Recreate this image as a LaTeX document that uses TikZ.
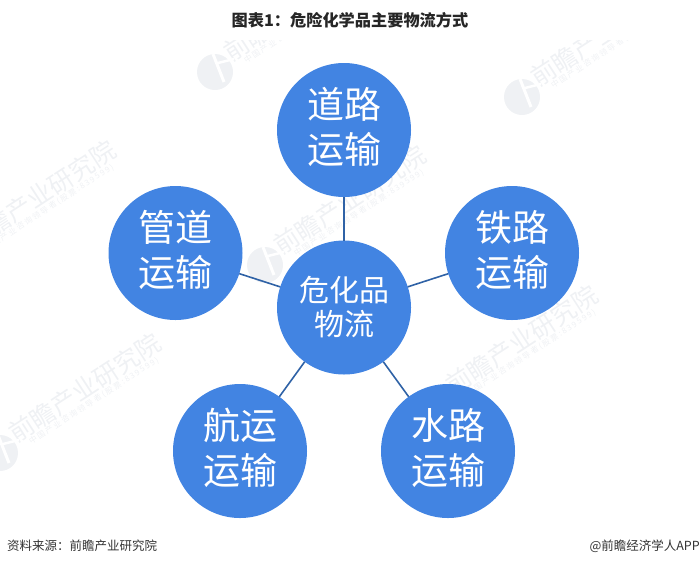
\documentclass[tikz,border=0pt]{standalone}
\usepackage{fontspec}
\setmainfont{Noto Sans CJK SC}
\newfontfamily\wmfont[LetterSpace=20]{Noto Sans CJK SC}
\definecolor{hubblue}{HTML}{4284E2}
\definecolor{linkblue}{HTML}{2F62A6}
\definecolor{wmgray}{HTML}{EFF1F4}
\tikzset{
    mode/.style={shape=circle,fill=hubblue,text=white,minimum size=134pt,inner sep=0pt,outer sep=0pt,align=center,text depth=9pt,font=\fontsize{37}{45}\selectfont},
    hub/.style={mode,text depth=4pt,font=\fontsize{30}{34}\selectfont},
    link/.style={draw=linkblue,line width=1.6pt},
    note/.style={text=black!80,inner sep=0pt,font=\fontsize{12.5}{14}\selectfont},
}
\newcommand{\wmark}[3]{
    \begin{scope}[shift={(#2,#3)}]
        \node[text=wmgray,rotate=33,inner sep=0pt,font=\fontsize{25}{25}\selectfont] (wm#1) at (0,0) {前瞻产业研究院};
        \node[text=wmgray,rotate=33,inner sep=0pt,font=\wmfont\fontsize{8}{8}\selectfont] (wmsub#1) at (9,13) {中国产业咨询领导者(股票:839599)};
        \fill[wmgray] (-85,65) circle (18);
        \draw[white,line width=3pt] (-87,47) -- (-76,75);
        \draw[white,line width=2.5pt] (-82,56) -- (-66,52);
    \end{scope}
}
\begin{document}
\begin{tikzpicture}[x=1pt,y=-1pt]
    \useasboundingbox (0,0) rectangle (700,566);
    \begin{scope}
        \clip (0,40) rectangle (700,530);
        \wmark{a}{300}{7}
        \wmark{b}{607}{32}
        \wmark{c}{40}{195}
        \wmark{d}{350}{200}
        \wmark{e}{85}{388}
        \wmark{f}{522}{340}
    \end{scope}
    \node[font=\bfseries\fontsize{16.2}{18}\selectfont,text=black!85,inner sep=0pt] (title) at (350,20) {图表1：危险化学品主要物流方式};
    \node[hub] (hub) at (344,307.5) {危化品\\物流};
    \node[mode] (road) at (344,130) {道路\\运输};
    \node[mode] (rail) at (512,253) {铁路\\运输};
    \node[mode] (water) at (448,451) {水路\\运输};
    \node[mode] (air) at (240,451) {航运\\运输};
    \node[mode] (pipe) at (175.5,253) {管道\\运输};
    \path[link] (hub) edge (road);
    \path[link] (hub) edge (rail);
    \path[link] (hub) edge (water);
    \path[link] (hub) edge (air);
    \path[link] (hub) edge (pipe);
    \node[note,anchor=west] (source) at (7,546) {资料来源：前瞻产业研究院};
    \node[note,anchor=east] (brand) at (700,546) {@前瞻经济学人APP};
\end{tikzpicture}
\end{document}
